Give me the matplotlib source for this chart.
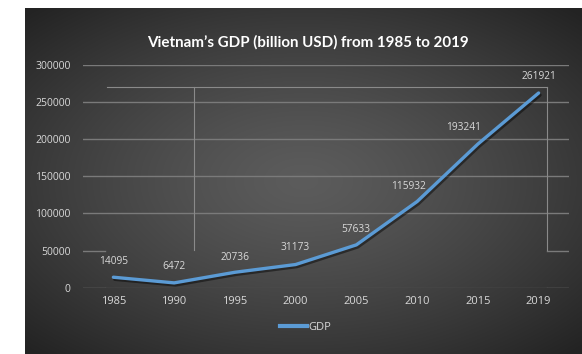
import numpy as np
import matplotlib
matplotlib.use("Agg")
import matplotlib.pyplot as plt
import matplotlib.patheffects as pe
from matplotlib.lines import Line2D

years = ["1985", "1990", "1995", "2000", "2005", "2010", "2015", "2019"]
gdp = [14095, 6472, 20736, 31173, 57633, 115932, 193241, 261921]
yticks = [0, 50000, 100000, 150000, 200000, 250000, 300000]
title = "Vietnam\u2019s GDP (billion USD) from 1985 to 2019"

W, H = 582, 354
fig = plt.figure(figsize=(W / 100, H / 100), dpi=100)
fig.patch.set_facecolor("white")

# dark radial-gradient panel
bg = fig.add_axes([25 / W, 0, 1 - 25 / W, (H - 8) / H])
bg.set_axis_off()
nx, ny = 300, 200
xx, yy = np.meshgrid(np.linspace(-1, 1, nx), np.linspace(-1, 1, ny))
r = np.sqrt((xx * 0.95) ** 2 + (yy * 1.0) ** 2)
val = 0.36 - 0.22 * np.clip(r / 1.35, 0, 1) ** 1.3
img = np.dstack([val, val, val])
bg.imshow(img, aspect="auto", extent=[0, 1, 0, 1], interpolation="bilinear")
bg.set_xlim(0, 1)
bg.set_ylim(0, 1)

ax = fig.add_axes([83 / W, (H - 287.7) / H, 486 / W, 223 / H])
ax.patch.set_alpha(0)
x = np.arange(len(years))
ax.set_xlim(-0.5, len(years) - 0.5)
ax.set_ylim(0, 300000)
for s in ax.spines.values():
    s.set_visible(False)

grid_c = "#7a7a7a"
for v in yticks:
    if v >= 100000:
        ax.axhline(v, color=grid_c, lw=1.0, zorder=1)
# partially hidden lower gridlines
for v in (0, 50000):
    ax.axhline(v, xmin=0, xmax=0.045, color=grid_c, lw=1.0, zorder=1)
    ax.axhline(v, xmin=0.955, xmax=1.0, color=grid_c, lw=1.0, zorder=1)
ax.axhline(0, xmin=0.045, xmax=0.955, color="#555555", lw=1.0, zorder=1)

# faint overlay rectangle lines
rc = "#8a8a8a"
ax.plot([0.049, 0.955], [0.9, 0.9], transform=ax.transAxes, color=rc, lw=0.8, zorder=1)
ax.plot([0.228, 0.228], [0.9, 0.169], transform=ax.transAxes, color=rc, lw=0.8, zorder=1)
ax.plot([0.955, 0.955], [0.9, 0.169], transform=ax.transAxes, color=rc, lw=0.8, zorder=1)

line_c = "#5b9bd5"
ax.plot(x, gdp, color=line_c, lw=2.4, solid_capstyle="round", solid_joinstyle="round",
        zorder=3, label="GDP",
        path_effects=[pe.SimpleLineShadow(offset=(1, -1.5), shadow_color="black", alpha=0.45),
                      pe.Normal()])

font = "Open Sans"
txt_c = "#d9d9d9"
ax.set_xticks(x)
ax.set_xticklabels(years, fontsize=8.0, color=txt_c, family=font)
ax.set_yticks(yticks)
ax.set_yticklabels([str(v) for v in yticks], fontsize=7.5, color=txt_c, family=font)
ax.tick_params(axis="both", length=0)
ax.tick_params(axis="x", pad=6)
ax.tick_params(axis="y", pad=9)

offsets = [(0, 11), (0, 12), (0, 11), (0, 12), (0, 11), (-6, 11), (-10, 12), (0, 12)]
for xi, v, (dx, dy) in zip(x, gdp, offsets):
    ax.annotate(str(v), (xi, v), xytext=(dx, dy), textcoords="offset points",
                ha="center", va="center", fontsize=7.3, color=txt_c, family=font, zorder=4)

fig.text(308 / W, 1 - 42 / H, title, ha="center", va="center", fontsize=10.9,
         fontweight="bold", color="white", family="Lato")

h = Line2D([], [], color=line_c, lw=3)
leg = fig.legend([h], ["GDP"], loc="center", bbox_to_anchor=(306 / W, 1 - 327 / H),
                 frameon=False, handlelength=2.4, handletextpad=0.15,
                 prop={"family": font, "size": 8.0})
for t in leg.get_texts():
    t.set_color(txt_c)

fig.savefig("out.png", dpi=100, facecolor="white")
